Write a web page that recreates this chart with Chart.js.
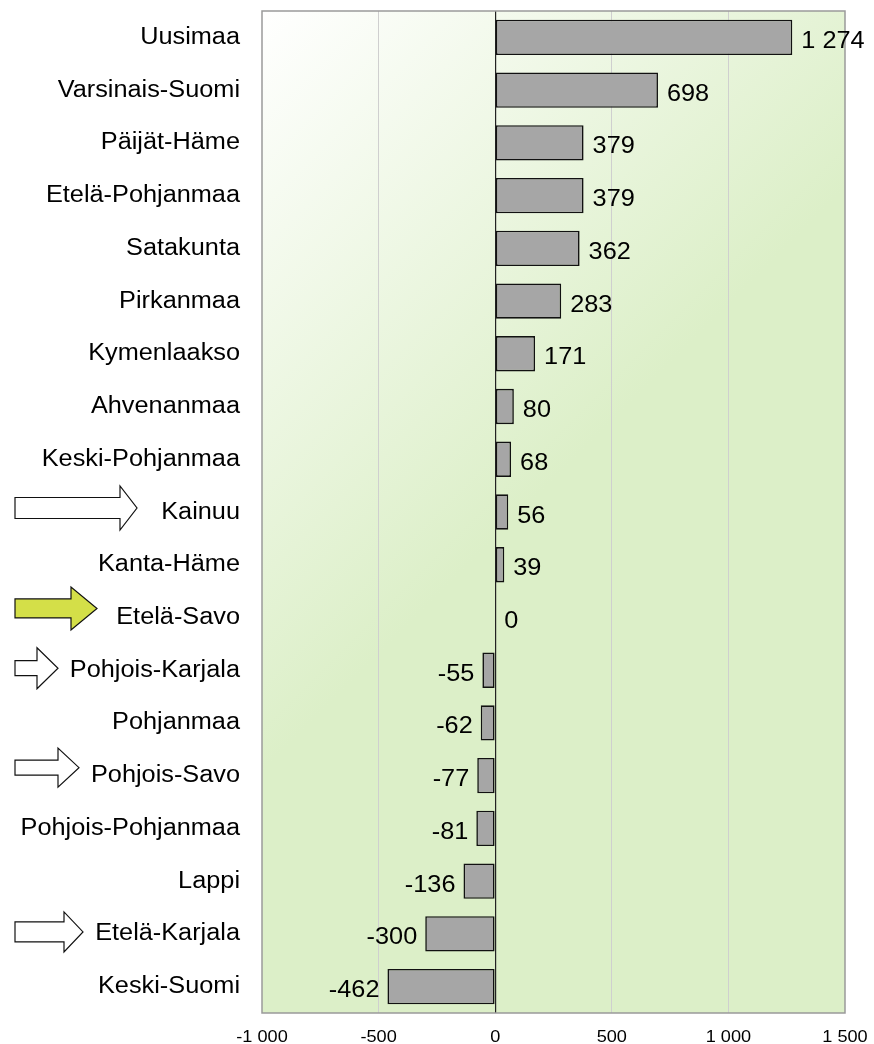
<!DOCTYPE html>
<html>
<head>
<meta charset="utf-8">
<script src="https://cdn.jsdelivr.net/npm/chart.js@4/dist/chart.umd.min.js"></script>
<style>
  html, body { margin: 0; padding: 0; background: #fff; }
  #wrap { width: 874px; height: 1044px; }
</style>
</head>
<body>
<div id="wrap"><canvas id="chart"></canvas></div>
<script>
// data
var regions = [
  "Uusimaa", "Varsinais-Suomi", "Päijät-Häme", "Etelä-Pohjanmaa", "Satakunta",
  "Pirkanmaa", "Kymenlaakso", "Ahvenanmaa", "Keski-Pohjanmaa", "Kainuu",
  "Kanta-Häme", "Etelä-Savo", "Pohjois-Karjala", "Pohjanmaa", "Pohjois-Savo",
  "Pohjois-Pohjanmaa", "Lappi", "Etelä-Karjala", "Keski-Suomi"
];
var changes = [1274, 698, 379, 379, 362, 283, 171, 80, 68, 56, 39, 0, -55, -62, -77, -81, -136, -300, -462];
var xTicks = [-1000, -500, 0, 500, 1000, 1500];
var markedRegions = ["Kainuu", "Etelä-Savo", "Pohjois-Karjala", "Pohjois-Savo", "Etelä-Karjala"];
var highlighted = "Etelä-Savo";

// look of the arrows in front of the marked regions
var arrowShape = {
  "Kainuu":          { tip: 137, base: 120, shaft: 10.5, head: 22, dy: -4 },
  "Etelä-Savo":      { tip: 97,  base: 71,  shaft: 9.5,  head: 21.5, dy: -9 },
  "Pohjois-Karjala": { tip: 58,  base: 37,  shaft: 7.5,  head: 20.5, dy: -2 },
  "Pohjois-Savo":    { tip: 79,  base: 58,  shaft: 7.5,  head: 19.5, dy: -8 },
  "Etelä-Karjala":   { tip: 83,  base: 64,  shaft: 10,   head: 20, dy: -2 }
};

var FONT = '"Liberation Sans", Arial, sans-serif';
var STRETCH = 1.1;

function fmt(n) {
  var s = String(Math.abs(n)).replace(/\B(?=(\d{3})+(?!\d))/g, ' ');
  return (n < 0 ? '-' : '') + s;
}

function drawText(ctx, txt, x, y, align, size) {
  ctx.save();
  ctx.font = size + 'px ' + FONT;
  ctx.translate(x, y);
  ctx.scale(STRETCH, 1);
  ctx.textAlign = align;
  ctx.textBaseline = 'alphabetic';
  ctx.fillStyle = '#000';
  ctx.fillText(txt, 0, 0);
  ctx.restore();
}

function drawArrow(ctx, s, cy, fill) {
  var y = cy + s.dy;
  ctx.save();
  ctx.beginPath();
  ctx.moveTo(15, y - s.shaft);
  ctx.lineTo(s.base, y - s.shaft);
  ctx.lineTo(s.base, y - s.head);
  ctx.lineTo(s.tip, y);
  ctx.lineTo(s.base, y + s.head);
  ctx.lineTo(s.base, y + s.shaft);
  ctx.lineTo(15, y + s.shaft);
  ctx.closePath();
  ctx.fillStyle = fill;
  ctx.fill();
  ctx.lineWidth = 1.2;
  ctx.strokeStyle = '#111';
  ctx.stroke();
  ctx.restore();
}

var plotDecor = {
  id: 'plotDecor',
  beforeDraw: function(chart) {
    var ctx = chart.ctx, a = chart.chartArea;
    var g = ctx.createLinearGradient(a.left, a.top, a.left + 380, a.top + 380);
    g.addColorStop(0, '#ffffff');
    g.addColorStop(1, '#dcefc8');
    ctx.save();
    ctx.fillStyle = g;
    ctx.fillRect(a.left, a.top, a.right - a.left, a.bottom - a.top);
    ctx.restore();
  },
  afterDatasetsDraw: function(chart) {
    var ctx = chart.ctx, a = chart.chartArea;
    var xs = chart.scales.x, ys = chart.scales.y;

    // frame
    ctx.save();
    ctx.strokeStyle = '#9a9a9a';
    ctx.lineWidth = 1.5;
    ctx.strokeRect(a.left, a.top, a.right - a.left, a.bottom - a.top);
    ctx.restore();

    // value labels
    var bars = chart.getDatasetMeta(0).data;
    bars.forEach(function(bar, i) {
      var v = changes[i];
      var cy = ys.getPixelForValue(i) + 10.5;
      if (v >= 0) drawText(ctx, fmt(v), bar.x + 9, cy, 'left', 23);
      else drawText(ctx, fmt(v), bar.x - 8, cy, 'right', 23);
    });

    // region names
    regions.forEach(function(r, i) {
      drawText(ctx, r, a.left - 22, ys.getPixelForValue(i) + 6.5, 'right', 23);
    });

    // x tick labels
    xTicks.forEach(function(t) {
      drawText(ctx, fmt(t), xs.getPixelForValue(t), a.bottom + 29, 'center', 16.5);
    });

    // arrows
    markedRegions.forEach(function(r) {
      var i = regions.indexOf(r);
      drawArrow(ctx, arrowShape[r], ys.getPixelForValue(i), r === highlighted ? '#d4df48' : '#ffffff');
    });
  }
};

new Chart(document.getElementById('chart').getContext('2d'), {
  type: 'bar',
  data: {
    labels: regions,
    datasets: [{
      data: changes,
      backgroundColor: '#a6a6a6',
      borderColor: '#111',
      borderWidth: 1.6,
      borderSkipped: false,
      barPercentage: 0.67,
      categoryPercentage: 1
    }]
  },
  options: {
    indexAxis: 'y',
    responsive: true,
    maintainAspectRatio: false,
    animation: false,
    layout: { padding: { top: 11, right: 29, left: 0, bottom: 0 } },
    plugins: { legend: { display: false }, tooltip: { enabled: false } },
    scales: {
      x: {
        type: 'linear',
        min: -1000,
        max: 1500,
        ticks: { stepSize: 500, display: false },
        border: { display: false },
        grid: {
          drawTicks: false,
          color: function(c) {
            var v = c.tick ? c.tick.value : null;
            if (v === 0) return '#222';
            if (v === -1000 || v === 1500) return 'rgba(0,0,0,0)';
            return '#cfcfcf';
          },
          lineWidth: function(c) { return c.tick && c.tick.value === 0 ? 1.2 : 1; }
        },
        afterFit: function(scale) { scale.height = 31; }
      },
      y: {
        ticks: { display: false },
        grid: { display: false },
        border: { display: false },
        afterFit: function(scale) { scale.width = 262; }
      }
    }
  },
  plugins: [plotDecor]
});
</script>
</body>
</html>
